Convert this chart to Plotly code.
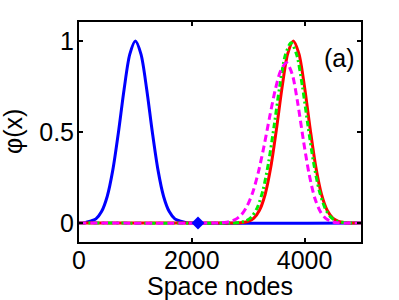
import plotly.graph_objects as go

# ---- data ----
x_blue = [0, 100, 200, 300, 400, 500, 600, 700, 800, 900, 1000, 1100, 1200, 1300,
          1400, 1500, 1600, 1700, 1800, 1900, 2000, 5000]
y_blue = [0, 0.002, 0.01, 0.023, 0.063, 0.146, 0.292, 0.50, 0.735, 0.926, 1.0, 0.926,
          0.735, 0.50, 0.292, 0.146, 0.063, 0.023, 0.01, 0.002, 0, 0]

x_red = [0, 2700, 2800, 2900, 3000, 3100, 3200, 3300, 3400, 3500, 3600, 3700, 3800,
         3900, 4000, 4100, 4200, 4300, 4400, 4500, 4600, 4700, 4800, 4900, 5000]
y_red = [0, 0, 0.0006, 0.0025, 0.009, 0.027, 0.07, 0.157, 0.306, 0.514, 0.744, 0.929,
         1.0, 0.929, 0.744, 0.514, 0.306, 0.157, 0.07, 0.027, 0.009, 0.0025, 0.0006, 0, 0]

x_green = [0, 2660, 2760, 2860, 2960, 3060, 3160, 3260, 3360, 3460, 3560, 3660, 3760,
           3860, 3960, 4060, 4160, 4260, 4360, 4460, 4560, 4660, 4760, 4860, 5000]
y_green = [0, 0, 0.001, 0.004, 0.012, 0.034, 0.084, 0.178, 0.331, 0.534, 0.753, 0.924,
           0.99, 0.924, 0.753, 0.534, 0.331, 0.178, 0.084, 0.034, 0.012, 0.004, 0.001, 0, 0]

x_magenta = [0, 2380, 2480, 2580, 2680, 2780, 2880, 2980, 3080, 3180, 3280, 3380, 3480,
             3580, 3680, 3780, 3880, 3980, 4080, 4180, 4280, 4380, 4480, 4580, 4680, 5000]
y_magenta = [0, 0, 0.001, 0.003, 0.009, 0.021, 0.046, 0.093, 0.168, 0.279, 0.422, 0.582,
             0.732, 0.840, 0.88, 0.818, 0.655, 0.452, 0.269, 0.138, 0.062, 0.024, 0.008,
             0.002, 0, 0]

x_marker = [2110]
y_marker = [0]

x_ticks = [0, 2000, 4000]
y_ticks = [0, 0.5, 1]

FONT = "Liberation Sans, Arial, Helvetica, sans-serif"

fig = go.Figure()
fig.add_trace(go.Scatter(x=x_blue, y=y_blue, mode="lines",
                         line=dict(color="#0000ff", width=3, shape="spline", smoothing=0.8)))
fig.add_trace(go.Scatter(x=x_red, y=y_red, mode="lines",
                         line=dict(color="#ff0000", width=3, shape="spline", smoothing=0.8)))
fig.add_trace(go.Scatter(x=x_green, y=y_green, mode="lines",
                         line=dict(color="#00ee00", width=3, dash="6px,3px,2px,3px",
                                   shape="spline", smoothing=0.8)))
fig.add_trace(go.Scatter(x=x_magenta, y=y_magenta, mode="lines",
                         line=dict(color="#ff00ff", width=3, dash="7px,4px",
                                   shape="spline", smoothing=0.8)))
fig.add_trace(go.Scatter(x=x_marker, y=y_marker, mode="markers",
                         marker=dict(symbol="diamond", color="#0000ff", size=10,
                                     line=dict(width=0))))

fig.add_annotation(x=0.925, y=0.836, xref="paper", yref="paper", text="(a)",
                   xanchor="center", yanchor="middle",
                   showarrow=False, font=dict(size=25, color="black", family=FONT))
fig.add_annotation(x=-0.234, y=0.5, xref="paper", yref="paper", text="φ(x)",
                   xanchor="center", yanchor="middle", textangle=-90,
                   showarrow=False, font=dict(size=25, color="black", family=FONT))

axis_common = dict(showgrid=False, zeroline=False, showline=True, linecolor="black",
                   linewidth=2, mirror="ticks", ticks="inside", ticklen=4,
                   tickwidth=1.5, tickcolor="black", automargin=False,
                   tickfont=dict(size=25, color="black", family=FONT))

fig.update_xaxes(range=[0, 5000], tickvals=x_ticks, ticktext=[str(v) for v in x_ticks],
                 ticklabelstandoff=-5,
                 title=dict(text="Space nodes", font=dict(size=25, color="black", family=FONT),
                            standoff=0),
                 **axis_common)
fig.update_yaxes(range=[-0.104, 1.104], tickvals=y_ticks, ticktext=["0", "0.5", "1"],
                 ticklabelstandoff=-2,
                 **axis_common)

fig.update_layout(width=399, height=300, showlegend=False,
                  margin=dict(l=79, r=38, t=22, b=58),
                  plot_bgcolor="white", paper_bgcolor="white")

fig.write_html("out.html", config={"displayModeBar": False},
               post_script="document.body.style.margin='0';document.body.style.overflow='hidden';")
